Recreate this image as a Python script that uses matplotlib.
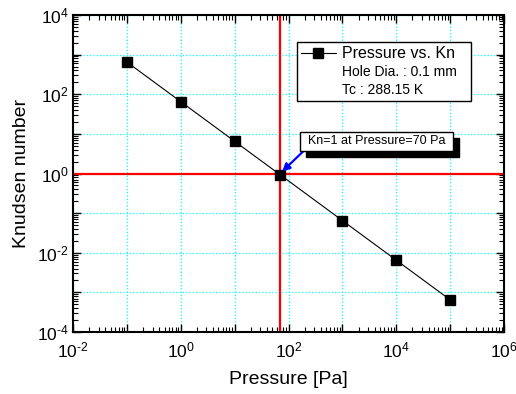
import matplotlib
matplotlib.use("Agg")
import matplotlib.pyplot as plt
import matplotlib.ticker as mticker
import matplotlib.transforms as mtransforms
from matplotlib.lines import Line2D
from matplotlib.path import Path
import numpy as np

plt.rcParams['font.family'] = ['Liberation Sans', 'DejaVu Sans']
plt.rcParams['mathtext.fontset'] = 'custom'
plt.rcParams['mathtext.rm'] = 'Liberation Sans'
plt.rcParams['mathtext.it'] = 'Liberation Sans'

pressure = [0.1, 1, 10, 70, 1000, 1e4, 1e5]
knudsen = [650, 65, 6.5, 0.93, 0.065, 0.0065, 0.00065]
crit_pressure = 70
crit_kn = 1
x_decades = list(range(-2, 7))
y_decades = list(range(-4, 5))
legend_main = "Pressure vs. Kn"
legend_extra = ["Hole Dia. : 0.1 mm", "Tc : 288.15 K"]
annot_text = "Kn=1 at Pressure=70 Pa"

fig = plt.figure(figsize=(5.16, 3.94), dpi=100)
ax = fig.add_axes([73/516, 1-332/394, (504-73)/516, (332-15)/394])

ax.set_xscale('log')
ax.set_yscale('log')
ax.set_xlim(10.0**x_decades[0], 10.0**x_decades[-1])
ax.set_ylim(10.0**y_decades[0], 10.0**y_decades[-1])

ax.grid(True, which='major', color='cyan', linestyle=':', linewidth=0.9)
ax.set_axisbelow(True)

ax.axvline(crit_pressure, color='red', lw=1.6, zorder=2)
ax.axhline(crit_kn, color='red', lw=1.6, zorder=2)

ax.plot(pressure, knudsen, color='black', lw=0.8, marker='s', markersize=6.5,
        markerfacecolor='black', markeredgecolor='black', zorder=3)


def fmt(v, p):
    e = int(round(np.log10(v)))
    if e % 2:
        return ''
    if e < 0:
        return r'$10^{\text{-}%d}$' % (-e)
    return r'$10^{%d}$' % e


mnr = mticker.LogLocator(base=10, subs=np.arange(2, 10), numticks=30)
ax.xaxis.set_major_locator(mticker.FixedLocator([10.0**e for e in x_decades]))
ax.yaxis.set_major_locator(mticker.FixedLocator([10.0**e for e in y_decades]))
for axis in (ax.xaxis, ax.yaxis):
    axis.set_minor_locator(mnr)
    axis.set_major_formatter(mticker.FuncFormatter(fmt))
    axis.set_minor_formatter(mticker.NullFormatter())

ax.tick_params(which='both', direction='in', top=True, right=True, labelsize=12.5, color='black')
ax.tick_params(which='major', length=6, width=1)
ax.tick_params(which='minor', length=3.5, width=0.8)
ax.tick_params(axis='x', pad=6)
ax.tick_params(axis='y', pad=3)
for s in ax.spines.values():
    s.set_linewidth(1.5)

ax.set_xlabel("Pressure [Pa]", fontsize=14, labelpad=8)
ax.set_ylabel("Knudsen number", fontsize=14, labelpad=5)

handles = [Line2D([], [], color='black', lw=0.8, marker='s', markersize=6.5)]
handles += [Line2D([], [], color='none', lw=0) for _ in legend_extra]
x0 = (297-73)/431
w = (471-297)/431
top = (332-42)/317
leg = ax.legend(handles, [legend_main] + legend_extra, loc='upper left',
                bbox_to_anchor=(x0, top - 0.3, w, 0.3), mode='expand', borderaxespad=0,
                fancybox=False, framealpha=1, edgecolor='black', handlelength=2.5,
                handletextpad=0.45, labelspacing=0.3, borderpad=0.28, fontsize=10)
leg.get_frame().set_linewidth(1.0)
leg.get_texts()[0].set_fontsize(11.5)


def wide_box(x0, y0, width, height, mutation_size):
    px = 0.62 * mutation_size
    py = 0.28 * mutation_size
    xa, ya = x0 - px, y0 - py
    xb, yb = x0 + width + px, y0 + height + py
    return Path([(xa, ya), (xb, ya), (xb, yb), (xa, yb), (xa, ya)],
                [Path.MOVETO, Path.LINETO, Path.LINETO, Path.LINETO, Path.CLOSEPOLY])


tx, ty = (376.5-73)/431, (332-141)/317
shadow_tr = mtransforms.offset_copy(ax.transAxes, fig=fig, x=6, y=-6, units='dots')
ax.text(tx, ty, annot_text, transform=shadow_tr, ha='center', va='center', fontsize=9,
        color='black', bbox=dict(boxstyle=wide_box, fc='black', ec='black'), zorder=5)
ax.annotate(annot_text, xy=(crit_pressure, crit_kn), xycoords='data',
            xytext=(tx, ty), textcoords='axes fraction', ha='center', va='center', fontsize=9,
            bbox=dict(boxstyle=wide_box, fc='white', ec='black', lw=1),
            arrowprops=dict(arrowstyle='-|>,head_length=0.5,head_width=0.25', color='blue', lw=1.6,
                            relpos=(0, 0), shrinkA=0, shrinkB=2), zorder=6)

fig.savefig("out.png", dpi=100)
